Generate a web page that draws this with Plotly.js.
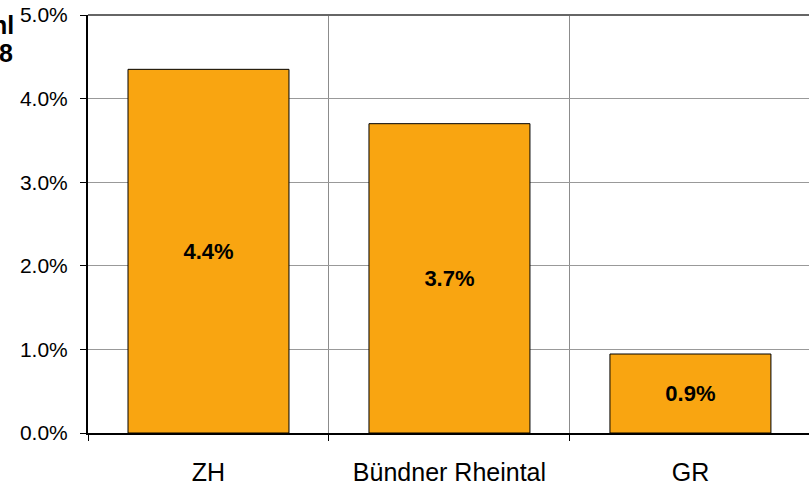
<!DOCTYPE html>
<html>
<head>
<meta charset="utf-8">
<script src="https://cdn.plot.ly/plotly-3.0.1.min.js"></script>
<style>html,body{margin:0;padding:0;background:#fff;}#chart{width:809px;height:486px;}</style>
</head>
<body>
<div id="chart"></div>
<script>
const categories = ['ZH', 'Bündner Rheintal', 'GR'];
const values = [4.35, 3.70, 0.945];
const valueLabels = ['4.4%', '3.7%', '0.9%'];
const yTickVals = [0, 1, 2, 3, 4, 5];
const yTickText = ['0.0%', '1.0%', '2.0%', '3.0%', '4.0%', '5.0%'];
const titleLines = ['hl', '8'];

const FONT = 'Liberation Sans, Arial, sans-serif';

const trace = {
  type: 'bar',
  x: categories,
  y: values,
  width: 0.668,
  marker: { color: '#F9A511', line: { color: '#000000', width: 1 } },
  text: valueLabels,
  textposition: 'inside',
  insidetextanchor: 'middle',
  textangle: 0,
  constraintext: 'none',
  textfont: { family: FONT, size: 22, color: '#000000', weight: 'bold' },
  hoverinfo: 'none'
};

const layout = {
  width: 809,
  height: 486,
  margin: { l: 88, r: 0, t: 15, b: 53 },
  paper_bgcolor: '#ffffff',
  plot_bgcolor: '#ffffff',
  showlegend: false,
  bargap: 0,
  xaxis: {
    type: 'category',
    range: [-0.5, 2.492],
    tickson: 'boundaries',
    ticks: 'outside',
    ticklen: 6,
    tickwidth: 1,
    tickcolor: '#000000',
    showgrid: true,
    gridcolor: '#8c8c8c',
    gridwidth: 1,
    showline: true,
    linecolor: '#000000',
    linewidth: 2,
    zeroline: false,
    ticklabelstandoff: 16,
    tickfont: { family: FONT, size: 25, color: '#000000' },
    fixedrange: true
  },
  yaxis: {
    range: [0, 5],
    tickvals: yTickVals,
    ticktext: yTickText,
    ticks: 'outside',
    ticklen: 6,
    tickwidth: 1,
    tickcolor: '#000000',
    showgrid: true,
    gridcolor: '#999999',
    gridwidth: 1,
    showline: true,
    linecolor: '#000000',
    linewidth: 2,
    zeroline: false,
    ticklabelstandoff: 8,
    tickfont: { family: FONT, size: 21, color: '#000000' },
    fixedrange: true
  },
  shapes: [
    { type: 'line', xref: 'paper', yref: 'paper', x0: 0, x1: 1, y0: 1, y1: 1,
      line: { color: '#666666', width: 2 } }
  ],
  annotations: [
    { xref: 'paper', yref: 'paper', x: -0.1, y: 1.014, xanchor: 'right', yanchor: 'top',
      align: 'right', showarrow: false, text: titleLines[0],
      font: { family: FONT, size: 25, color: '#000000', weight: 'bold' } },
    { xref: 'paper', yref: 'paper', x: -0.101, y: 0.947, xanchor: 'right', yanchor: 'top',
      align: 'right', showarrow: false, text: titleLines[1],
      font: { family: FONT, size: 25, color: '#000000', weight: 'bold' } }
  ]
};

Plotly.newPlot('chart', [trace], layout, { staticPlot: true, displayModeBar: false });
</script>
</body>
</html>
